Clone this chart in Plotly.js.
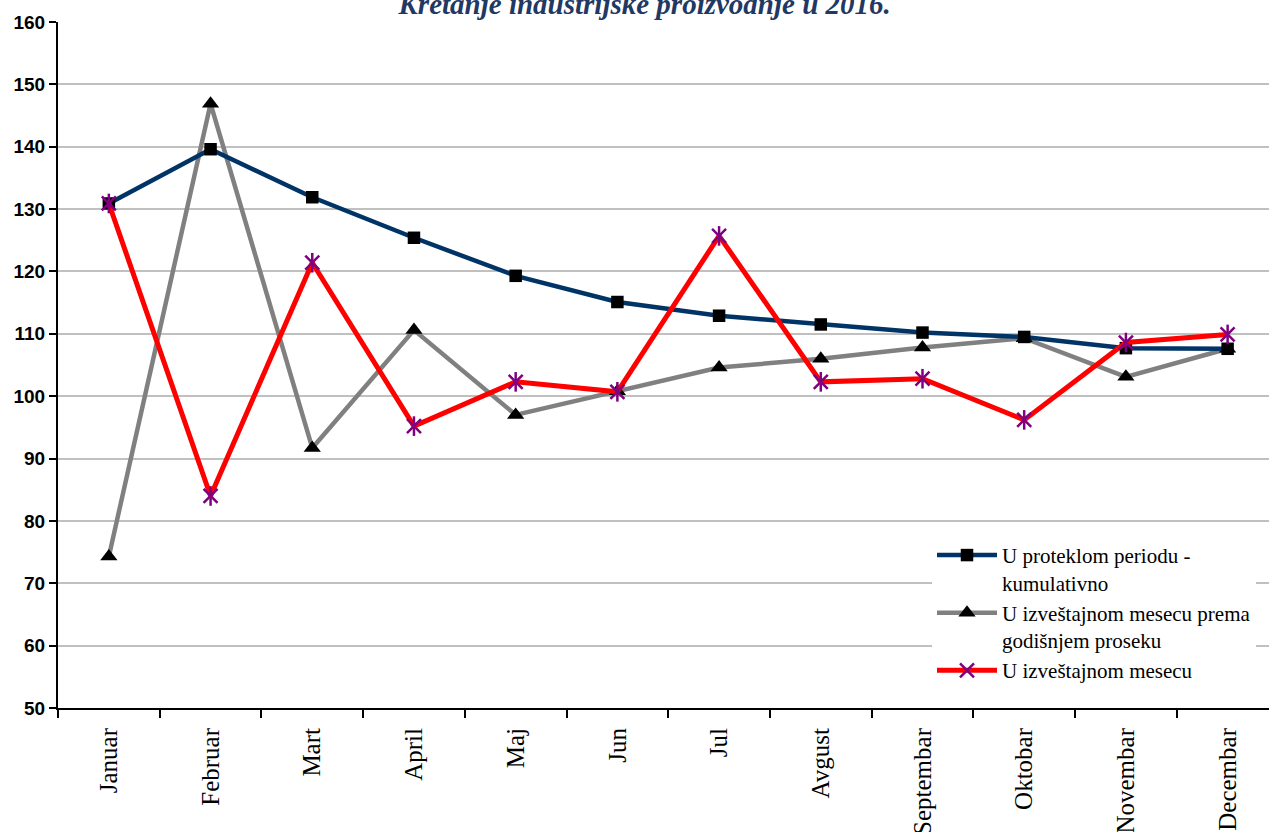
<!DOCTYPE html>
<html>
<head>
<meta charset="utf-8">
<script src="https://cdn.plot.ly/plotly-3.0.1.min.js"></script>
<style>
html,body{margin:0;padding:0;background:#fff;}
#chart{width:1269px;height:832px;}
</style>
</head>
<body>
<div id="chart"></div>
<script>
const months = ['Januar','Februar','Mart','April','Maj','Jun','Jul','Avgust','Septembar','Oktobar','Novembar','Decembar'];
const cumulative = [130.9,139.6,131.9,125.4,119.3,115.1,112.9,111.5,110.2,109.5,107.7,107.6];
const vsAverage = [74.3,146.9,91.7,110.6,97.0,100.8,104.6,106.0,107.8,109.3,103.1,107.6];
const monthly = [130.9,84.0,121.4,95.2,102.3,100.7,125.7,102.3,102.8,96.2,108.6,109.9];
const seriesNames = ['U proteklom periodu -<br>kumulativno','U izveštajnom mesecu prema<br>godišnjem proseku','U izveštajnom mesecu'];
const chartTitle = 'Kretanje industrijske proizvodnje u 2016.';

const traces = [
  {
    x: months, y: vsAverage, name: seriesNames[1], type: 'scatter', mode: 'lines+markers',
    line: {color: '#808080', width: 4.5},
    marker: {symbol: 'triangle-up', size: 15, color: '#000000'},
    legendrank: 2
  },
  {
    x: months, y: cumulative, name: seriesNames[0], type: 'scatter', mode: 'lines+markers',
    line: {color: '#003366', width: 4.5},
    marker: {symbol: 'square', size: 12.5, color: '#000000'},
    legendrank: 1
  },
  {
    x: months, y: monthly, name: seriesNames[2], type: 'scatter', mode: 'lines+markers',
    line: {color: '#FF0000', width: 5},
    marker: {symbol: 'x-thin-open', size: 14, color: '#800080', line: {color: '#800080', width: 2.5}},
    legendrank: 3
  },
  {
    x: months, y: monthly, name: seriesNames[2], type: 'scatter', mode: 'markers',
    marker: {symbol: 'line-ns-open', size: 14, color: '#800080', line: {color: '#800080', width: 2.5}},
    showlegend: false, hoverinfo: 'skip'
  }
];

const legendX = (932 - 58) / 1211;

const layout = {
  width: 1269, height: 832,
  margin: {l: 58, r: 0, t: 22, b: 124},
  paper_bgcolor: '#ffffff', plot_bgcolor: '#ffffff',
  title: {
    text: chartTitle,
    font: {family: 'Liberation Serif', size: 29, color: '#1F3864', weight: 'bold', style: 'italic'},
    x: 0.508, xanchor: 'center', xref: 'container',
    y: 1 - 14/832, yanchor: 'bottom', yref: 'container'
  },
  xaxis: {
    type: 'category',
    range: [-0.5, 11.407],
    showline: true, linecolor: '#000000', linewidth: 2,
    ticks: 'outside', ticklen: 8, tickwidth: 2, tickcolor: '#000000',
    tickson: 'boundaries',
    tickangle: -90,
    tickfont: {family: 'Liberation Serif', size: 25, color: '#000000'},
    showgrid: false, zeroline: false,
    ticklabelstandoff: 8
  },
  yaxis: {
    range: [50, 160], dtick: 10, tick0: 50,
    showline: true, linecolor: '#000000', linewidth: 2,
    ticks: 'outside', ticklen: 7, tickwidth: 2, tickcolor: '#000000',
    tickfont: {family: 'Liberation Sans', size: 19, color: '#000000', weight: 'bold'},
    showgrid: true, gridcolor: '#C0C0C0', gridwidth: 2,
    zeroline: false
  },
  shapes: [{
    type: 'rect', xref: 'paper', yref: 'paper',
    x0: (910 - 58) / 1211, x1: legendX + 0.002, y0: 0.03, y1: 0.25,
    fillcolor: '#ffffff', line: {width: 0}, layer: 'below'
  }],
  legend: {
    x: legendX, xanchor: 'left', y: 0.2523, yanchor: 'top',
    bgcolor: '#ffffff', borderwidth: 0,
    font: {family: 'Liberation Serif', size: 21, color: '#000000'},
    valign: 'top', itemwidth: 60, tracegroupgap: 0
  },
  showlegend: true
};

Plotly.newPlot('chart', traces, layout, {displayModeBar: false, staticPlot: true});
</script>
</body>
</html>
